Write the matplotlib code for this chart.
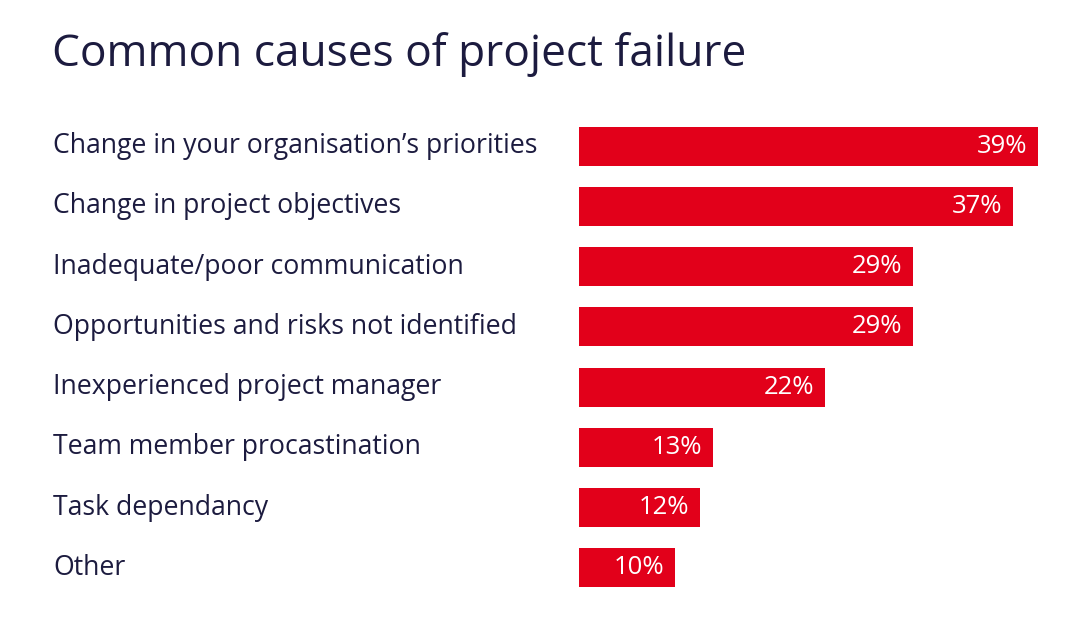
import matplotlib
matplotlib.use('Agg')
import matplotlib.pyplot as plt
import matplotlib.transforms as transforms

# Data

causes = [
    'Change in your organisation\u2019s priorities',
    'Change in project objectives',
    'Inadequate/poor communication',
    'Opportunities and risks not identified',
    'Inexperienced project manager',
    'Team member procastination',
    'Task dependancy',
    'Other',
]
percent = [39, 37, 29, 29, 22, 13, 12, 10]

red = '#e2001a'
navy = '#1c1b3f'

plt.rcParams['font.family'] = ['Open Sans', 'DejaVu Sans']

W, H = 1080, 617
fig = plt.figure(figsize=(W / 100, H / 100), dpi=100)

left, right = 579, 1038
top, bottom = 116, 598
ax = fig.add_axes([left / W, 1 - bottom / H, (right - left) / W, (bottom - top) / H])

pos = list(range(len(causes)))
ax.barh(pos, percent, height=0.65, color=red)
ax.set_xlim(2.3, max(percent))
ax.set_ylim(len(causes) - 0.5, -0.5)
ax.axis('off')

for y, v in zip(pos, percent):
    ax.annotate(f'{v}%', (v, y), xytext=(-8, 0), textcoords='offset points',
                ha='right', va='center', color='white', fontsize=18.5)

blend = transforms.blended_transform_factory(fig.transFigure, ax.transData)
for y, c in zip(pos, causes):
    ax.text(53 / W, y, c, transform=blend, ha='left', va='center', color=navy, fontsize=19.2)

fig.text(52 / W, 1 - 55 / H, 'Common causes of project failure', ha='left', va='center',
         color=navy, fontsize=31.9)

fig.savefig('out.png', dpi=100)
